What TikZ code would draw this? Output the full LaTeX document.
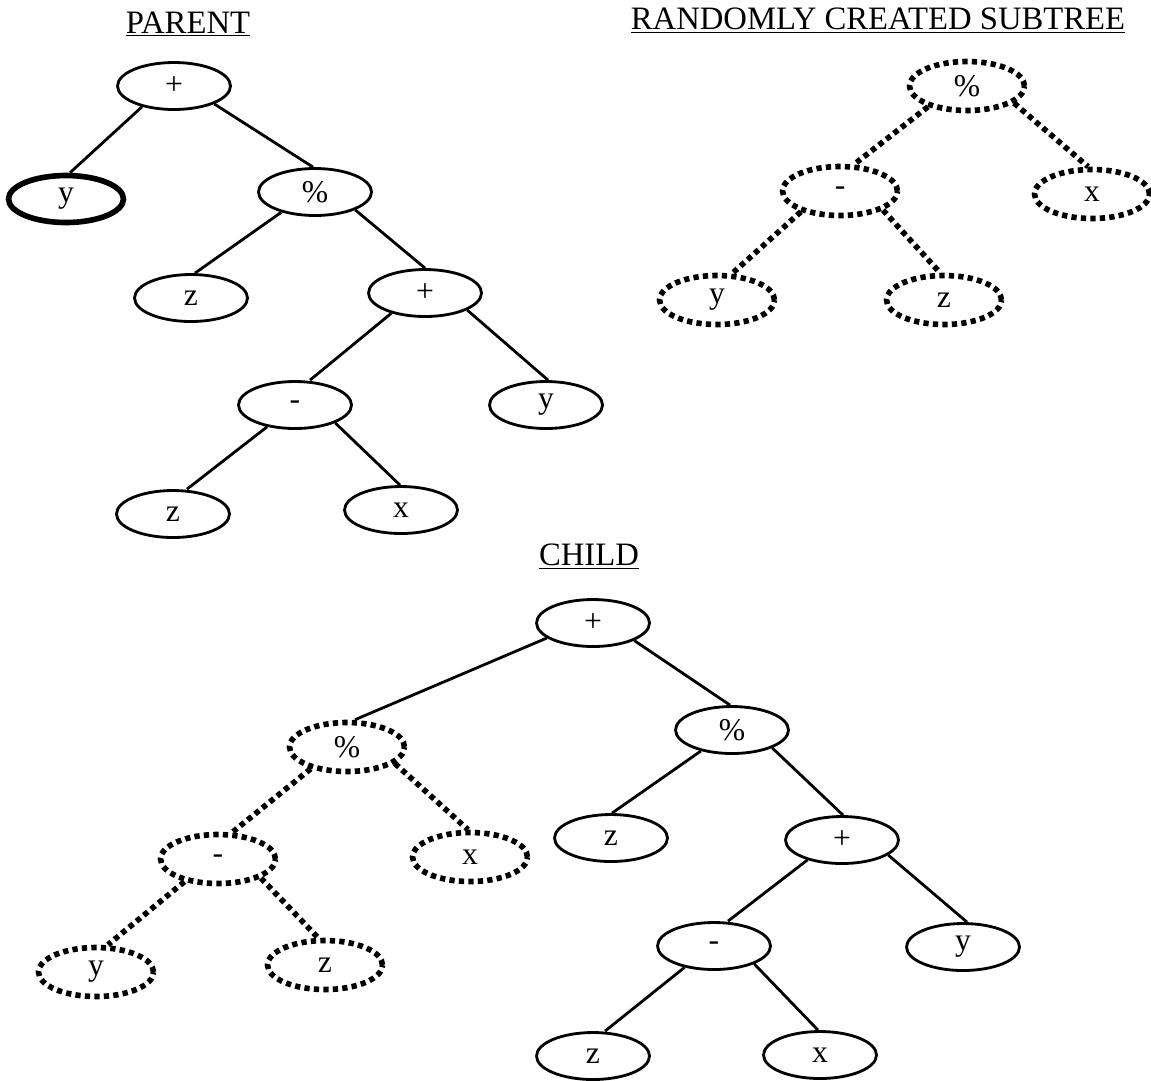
\documentclass[tikz,border=0pt]{standalone}
\usepackage{fontspec}
\setmainfont{Liberation Serif}
\usetikzlibrary{shapes.geometric,calc}
\begin{document}
\begin{tikzpicture}[x=0.02cm,y=-0.02cm,
  ell/.style={ellipse, draw, line width=1.6pt, minimum width=2.26cm, minimum height=0.94cm,
    inner sep=0pt, font=\fontsize{18}{19}\selectfont},
  boldell/.style={ell, line width=3.2pt, minimum width=2.3cm},
  dotell/.style={ell, line width=3.2pt, dash pattern=on 3pt off 2.4pt,
    minimum width=2.3cm, minimum height=0.98cm},
  edge/.style={line width=1.6pt},
  dotedge/.style={line width=3.2pt, dash pattern=on 3pt off 2.4pt},
  title/.style={font=\fontsize{18.6}{20}\selectfont, inner sep=0pt}]
\useasboundingbox (0,0) rectangle (1151,1080);

% titles
\node[title] (tp) at (188,24) {\underline{PARENT}};
\node[title] (ts) at (878,21) {\underline{RANDOMLY CREATED SUBTREE}};
\node[title] (tc) at (589,557) {\underline{CHILD}};

% parent tree
\node[ell] (p1) at (174,86) {+};
\node[boldell] (p2) at (66,199) {y};
\node[ell] (p3) at (315,192) {\%};
\node[ell] (p4) at (191,298) {z};
\node[ell] (p5) at (425,293) {+};
\node[ell] (p6) at (295,405) {-};
\node[ell] (p7) at (546,405) {y};
\node[ell] (p8) at (173,514) {z};
\node[ell] (p9) at (401,510) {x};
\draw[edge] (p1.213) -- ($(p2.north)+(4,0)$);
\draw[edge] (p1.336) -- ($(p3.north)+(-2,0)$);
\draw[edge] (p3.211) -- ($(p4.north)+(4,0)$);
\draw[edge] (p3.336) -- (p5.north);
\draw[edge] (p5.211) -- ($(p6.north)+(15,0)$);
\draw[edge] (p5.338) -- ($(p7.north)+(2,0)$);
\draw[edge] (p6.218) -- ($(p8.north)+(14,0)$);
\draw[edge] (p6.336) -- ($(p9.north)+(-1,0)$);

% randomly created subtree
\node[dotell] (s1) at (967,86) {\%};
\node[dotell] (s2) at (840,191) {-};
\node[dotell] (s3) at (1092,194) {x};
\node[dotell] (s4) at (717,300) {y};
\node[dotell] (s5) at (944,300) {z};
\draw[dotedge] (s1.208) -- ($(s2.north)+(15,0)$);
\draw[dotedge] (s1.340) -- ($(s3.north)+(-4,0)$);
\draw[dotedge] (s2.208) -- ($(s4.north)+(16,0)$);
\draw[dotedge] (s2.336) -- ($(s5.north)+(-4,0)$);

% child tree
\node[ell] (c1) at (593,623) {+};
\node[dotell] (c2) at (347,747) {\%};
\node[dotell] (c3) at (218,859) {-};
\node[dotell] (c4) at (470,857) {x};
\node[dotell] (c5) at (96,972) {y};
\node[dotell] (c6) at (325,965) {z};
\node[ell] (c7) at (732,730) {\%};
\node[ell] (c8) at (611,838) {z};
\node[ell] (c9) at (842,840) {+};
\node[ell] (c10) at (714,946) {-};
\node[ell] (c11) at (963,947) {y};
\node[ell] (c12) at (593,1056) {z};
\node[ell] (c13) at (820,1055) {x};
\draw[edge] (c1.198) -- ($(c2.north)+(8,0)$);
\draw[dotedge] (c2.211) -- ($(c3.north)+(15,0)$);
\draw[dotedge] (c2.341) -- ($(c4.north)+(-2,0)$);
\draw[dotedge] (c3.214) -- ($(c5.north)+(12,0)$);
\draw[dotedge] (c3.336) -- ($(c6.north)+(-7,0)$);
\draw[edge] (c1.337) -- ($(c7.north)+(-2,0)$);
\draw[edge] (c7.214) -- ($(c8.north)+(1,0)$);
\draw[edge] (c7.336) -- ($(c9.north)+(1,0)$);
\draw[edge] (c9.210) -- ($(c10.north)+(14,0)$);
\draw[edge] (c9.342) -- ($(c11.north)+(4,0)$);
\draw[edge] (c10.216) -- ($(c12.north)+(12,0)$);
\draw[edge] (c10.336) -- ($(c13.north)+(-2,0)$);
\end{tikzpicture}
\end{document}
